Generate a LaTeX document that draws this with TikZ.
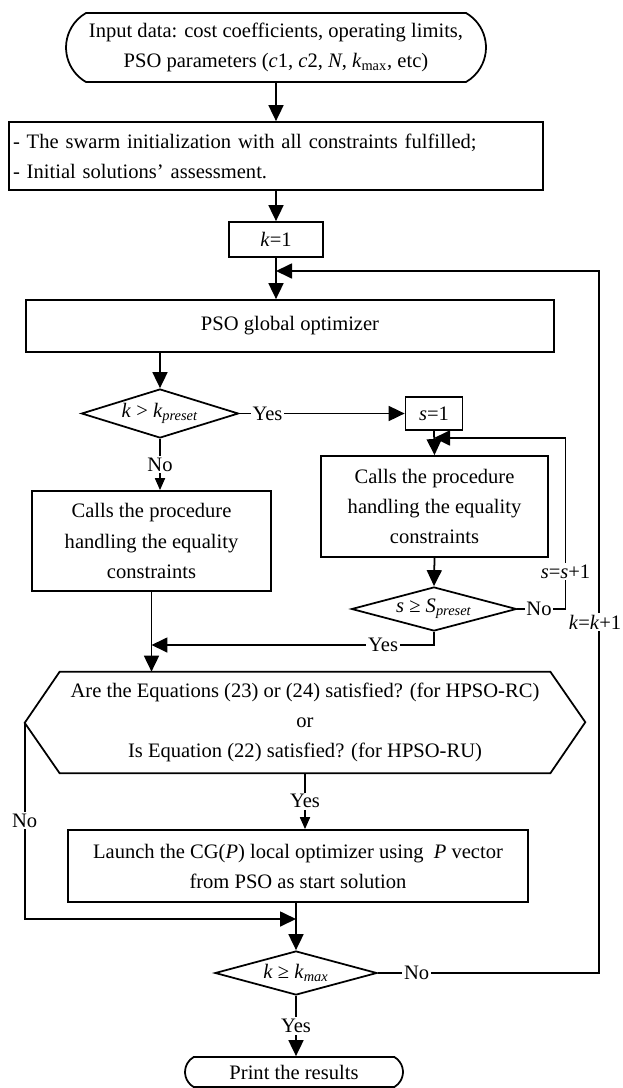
\documentclass[tikz,border=0pt]{standalone}
\usepackage{fontspec}
\setmainfont{Liberation Serif}
\usetikzlibrary{arrows.meta,positioning,shapes.geometric,shapes.misc}

\begin{document}
\begin{tikzpicture}[x=0.02cm,y=-0.02cm,
  every node/.style={font=\fontsize{11.7}{17.1}\selectfont},
  box/.style={draw,line width=1pt,rectangle,align=center,inner sep=0pt},
  term/.style={draw,line width=1pt,rounded rectangle,rounded rectangle arc length=120,align=center,inner sep=0pt},
  cond/.style={draw,line width=1pt,diamond,aspect=3.2,inner sep=0pt},
  lbl/.style={fill=white,inner sep=1pt},
  line/.style={line width=1pt},
  arr/.style={line width=1pt,-{Triangle[length=0.32cm,width=0.3cm]}},
  sarr/.style={line width=1pt,-{Triangle[length=0.24cm,width=0.2cm]}}]
\useasboundingbox (0,0) rectangle (622,1088);

% Nodes
\node[term,minimum width=8.4cm,minimum height=1.38cm] (start) at (276,47.5)
  {Input data: cost coefficients, operating limits,\\
   PSO parameters (\textit{c}1, \textit{c}2, \textit{N}, \textit{k}\textsubscript{max}, etc)};
\node[box,align=left,text width=10.52cm,inner xsep=0.08cm,minimum height=1.36cm] (init) at (276,156)
  {- The swarm initialization with all constraints fulfilled;\\
   - Initial solutions’ assessment.};
\node[box,minimum width=1.88cm,minimum height=0.7cm] (k1) at (276,239.5) {\textit{k}=1};
\node[box,minimum width=10.56cm,minimum height=1.04cm] (pso) at (290,326) {PSO global optimizer};
\node[cond,minimum width=3.14cm,minimum height=0.98cm] (dec1) at (160,413.5)
  {\textit{k} > \textit{k}\textsubscript{\textit{preset}}};
\node[box,minimum width=1.14cm,minimum height=0.66cm] (s1) at (434,413.5) {\textit{s}=1};
\node[box,minimum width=4.54cm,minimum height=2.02cm] (procR) at (434.5,506.5)
  {Calls the procedure\\handling the equality\\constraints};
\node[cond,minimum width=3.3cm,minimum height=0.88cm] (dec2) at (434,609)
  {\textit{s} ≥ \textit{S}\textsubscript{\textit{preset}}};
\node[box,minimum width=4.78cm,minimum height=2cm] (procL) at (151.5,541)
  {Calls the procedure\\handling the equality\\constraints};
\node[align=center,inner sep=0pt,minimum width=9.8cm,minimum height=2.02cm] (chk) at (305,722.5)
  {Are the Equations (23) or (24) satisfied? (for HPSO-RC)\\or\\Is Equation (22) satisfied? (for HPSO-RU)};
\draw[line] (chk.north west) -- (chk.north east) -- ++(35,50.5) -- (chk.south east)
  -- (chk.south west) -- ++(-35,-50.5) -- cycle;
\coordinate (chkW) at ([xshift=-0.7cm]chk.west);
\node[box,minimum width=9.2cm,minimum height=1.44cm] (cg) at (298,866)
  {Launch the CG(\textit{P}) local optimizer using\ \ \textit{P} vector\\from PSO as start solution};
\node[cond,minimum width=3.24cm,minimum height=0.88cm] (dec3) at (296,973)
  {\textit{k} ≥ \textit{k}\textsubscript{\textit{max}}};
\node[term,minimum width=4.36cm,minimum height=0.6cm] (stop) at (294,1072) {Print the results};

% Loop corners and joins
\coordinate (kloop) at (599,271);
\coordinate (sloop) at (565.5,438);
\coordinate (yjoin) at (151.5,645);
\coordinate (njoin) at (296,919);

% Connectors
\draw[arr] (start.south) -- (init.north);
\draw[arr] (init.south) -- (k1.north);
\draw[arr] (k1.south) -- (k1.south |- pso.north);
\draw[arr] (pso.south -| dec1.north) -- (dec1.north);
\draw[arr] (dec1.east) -- node[lbl,pos=0.17]{Yes} (s1.west);
\draw[sarr] (dec1.south) -- node[lbl]{No} (dec1.south |- procL.north);
\draw[arr] (s1.south) -- (procR.north);
\draw[arr] (procR.south) -- (dec2.north);
\draw[arr] (dec2.east) -- node[lbl,pos=0.45]{No} (dec2.east -| sloop)
  -- node[lbl,pos=0.22]{\textit{s}=\textit{s}+1} (sloop) -- (sloop -| s1.south);
\draw[arr] (dec2.south) |- node[lbl,pos=0.59]{Yes} (yjoin);
\draw[arr] (procL.south) -- (procL.south |- chk.north);
\draw[sarr] (chk.south) -- node[lbl]{Yes} (chk.south |- cg.north);
\draw[arr] (chkW) -- node[lbl]{No} (chkW |- njoin) -- (njoin);
\draw[arr] (dec3.north |- cg.south) -- (dec3.north);
\draw[arr] (dec3.east) -- node[lbl,pos=0.175]{No} (dec3.east -| kloop)
  -- node[lbl,xshift=-0.08cm]{\textit{k}=\textit{k}+1} (kloop) -- (kloop -| k1.south);
\draw[arr] (dec3.south) -- node[lbl]{Yes} (dec3.south |- stop.north);
\end{tikzpicture}
\end{document}
